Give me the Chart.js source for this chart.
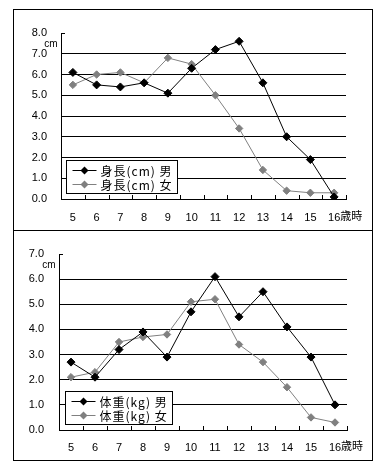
<!DOCTYPE html>
<html>
<head>
<meta charset="utf-8">
<script src="https://cdn.jsdelivr.net/npm/chart.js@4/dist/chart.umd.min.js"></script>
<style>
body { margin: 0; background: #fff; }
.panel { position: absolute; left: 13px; width: 358px; border: 1px solid #000; background: #fff; }
#p1 { top: 9px; height: 220px; }
#p2 { top: 230px; height: 229px; }
canvas { display: block; }
</style>
</head>
<body>
<div class="panel" id="p1"><canvas id="c1" width="358" height="220"></canvas></div>
<div class="panel" id="p2"><canvas id="c2" width="358" height="229"></canvas></div>
<script>
const ages = ["5", "6", "7", "8", "9", "10", "11", "12", "13", "14", "15", "16"];

const heightBoys  = [6.1, 5.5, 5.4, 5.6, 5.1, 6.3, 7.2, 7.6, 5.6, 3.0, 1.9, 0.1];
const heightGirls = [5.5, 6.0, 6.1, 5.6, 6.8, 6.5, 5.0, 3.4, 1.4, 0.4, 0.3, 0.3];

const weightBoys  = [2.7, 2.1, 3.2, 3.9, 2.9, 4.7, 6.1, 4.5, 5.5, 4.1, 2.9, 1.0];
const weightGirls = [2.1, 2.3, 3.5, 3.7, 3.8, 5.1, 5.2, 3.4, 2.7, 1.7, 0.5, 0.3];

const FONT = "'Liberation Sans', 'Noto Sans CJK JP', sans-serif";
const JFONT = "'Noto Sans CJK JP', sans-serif";
const BLACK = "#000000";
const GREY = "#808080";

function diamond(ctx, x, y, r, color) {
    ctx.beginPath();
    ctx.moveTo(x, y - r);
    ctx.lineTo(x + r, y);
    ctx.lineTo(x, y + r);
    ctx.lineTo(x - r, y);
    ctx.closePath();
    ctx.fillStyle = color;
    ctx.fill();
}

// axis ticks, unit text, "歳時" and the boxed legend
const decor = {
    id: "decor",
    afterDraw(chart, args, opts) {
        const ctx = chart.ctx;
        const a = chart.chartArea;
        const x = chart.scales.x;
        const n = x.ticks.length;

        ctx.save();
        ctx.strokeStyle = BLACK;
        ctx.lineWidth = 1;
        ctx.beginPath();
        for (let i = 0; i <= n; i++) {
            const px = Math.round(a.left + i * (a.right - a.left) / n) + 0.5;
            ctx.moveTo(px, a.bottom);
            ctx.lineTo(px, a.bottom - 4);
        }
        ctx.moveTo(a.left, Math.round(a.top) + 0.5);
        ctx.lineTo(a.left + 4, Math.round(a.top) + 0.5);
        ctx.stroke();

        ctx.fillStyle = BLACK;
        ctx.font = "10px " + FONT;
        ctx.textAlign = "center";
        ctx.textBaseline = "middle";
        ctx.fillText("cm", a.left - 10, a.top + 11.5);

        ctx.font = "11px " + FONT;
        ctx.textAlign = "left";
        ctx.textBaseline = "top";
        const last = n - 1;
        const w = ctx.measureText(x.getLabelForValue(last)).width;
        ctx.fillText("歳時", x.getPixelForTick(last) + w / 2, x.top + opts.labelPad);

        // legend
        ctx.font = "12px " + JFONT;
        ctx.letterSpacing = "1px";
        const sets = chart.data.datasets;
        let tw = 0;
        sets.forEach(d => { tw = Math.max(tw, ctx.measureText(d.label).width); });
        const bx = Math.round(a.left + opts.legendDx) + 0.5;
        const bh = 33;
        const by = Math.round(a.bottom - opts.legendDy - bh) + 0.5;
        const bw = Math.round(34 + tw + 5);
        ctx.fillStyle = "#fff";
        ctx.fillRect(bx, by, bw, bh);
        ctx.strokeRect(bx, by, bw, bh);

        ctx.textBaseline = "middle";
        sets.forEach((d, i) => {
            const ry = Math.round(by + 9 + i * 14.5) + 0.5;
            ctx.strokeStyle = d.borderColor;
            ctx.beginPath();
            ctx.moveTo(bx + 6, ry);
            ctx.lineTo(bx + 30, ry);
            ctx.stroke();
            diamond(ctx, bx + 18, ry, 4, d.pointBackgroundColor);
            ctx.fillStyle = BLACK;
            ctx.fillText(d.label, bx + 34, ry + 1);
        });
        ctx.restore();
    }
};

function makeChart(id, labels, boys, girls, names, yMax, yWidth, xHeight, padRight, labelPad, yPad, legendDx, legendDy) {
    return new Chart(document.getElementById(id), {
        type: "line",
        data: {
            labels: labels,
            datasets: [
                {
                    label: names[0],
                    data: boys,
                    borderColor: BLACK,
                    backgroundColor: BLACK,
                    pointBackgroundColor: BLACK,
                    pointBorderColor: BLACK,
                    borderWidth: 1,
                    pointStyle: "rectRot",
                    pointRadius: 4,
                    pointBorderWidth: 1,
                    tension: 0,
                    order: 0
                },
                {
                    label: names[1],
                    data: girls,
                    borderColor: GREY,
                    backgroundColor: GREY,
                    pointBackgroundColor: GREY,
                    pointBorderColor: GREY,
                    borderWidth: 1,
                    pointStyle: "rectRot",
                    pointRadius: 3.7,
                    pointBorderWidth: 1,
                    tension: 0,
                    order: 1
                }
            ]
        },
        options: {
            responsive: false,
            animation: false,
            layout: { padding: { left: 0, top: 23, right: padRight, bottom: 0 } },
            plugins: {
                legend: { display: false },
                tooltip: { enabled: false },
                decor: { labelPad: labelPad, legendDx: legendDx, legendDy: legendDy }
            },
            scales: {
                x: {
                    offset: true,
                    grid: { display: false, drawTicks: false },
                    border: { display: true, color: BLACK, width: 1 },
                    ticks: {
                        color: BLACK,
                        padding: labelPad,
                        maxRotation: 0,
                        autoSkip: false,
                        font: { family: FONT, size: 11 }
                    },
                    afterFit(s) { s.height = xHeight; }
                },
                y: {
                    min: 0,
                    max: yMax,
                    grid: {
                        drawTicks: false,
                        color: c => (c.tick.value === yMax || c.tick.value === 0) ? "rgba(0,0,0,0)" : BLACK,
                        lineWidth: 1
                    },
                    border: { display: true, color: BLACK, width: 1 },
                    ticks: {
                        stepSize: 1,
                        color: BLACK,
                        padding: yPad,
                        font: { family: FONT, size: 11 },
                        callback: v => v.toFixed(1)
                    },
                    afterFit(s) { s.width = yWidth; }
                }
            }
        },
        plugins: [decor]
    });
}

makeChart("c1", ages, heightBoys, heightGirls, ["身長(cm) 男", "身長(cm) 女"],
    8, 47, 31, 26, 12, 14, 5, 6);
makeChart("c2", ages, weightBoys, weightGirls, ["体重(kg) 男", "体重(kg) 女"],
    7, 45, 30, 25, 11, 15, 6, 6);
</script>
</body>
</html>
